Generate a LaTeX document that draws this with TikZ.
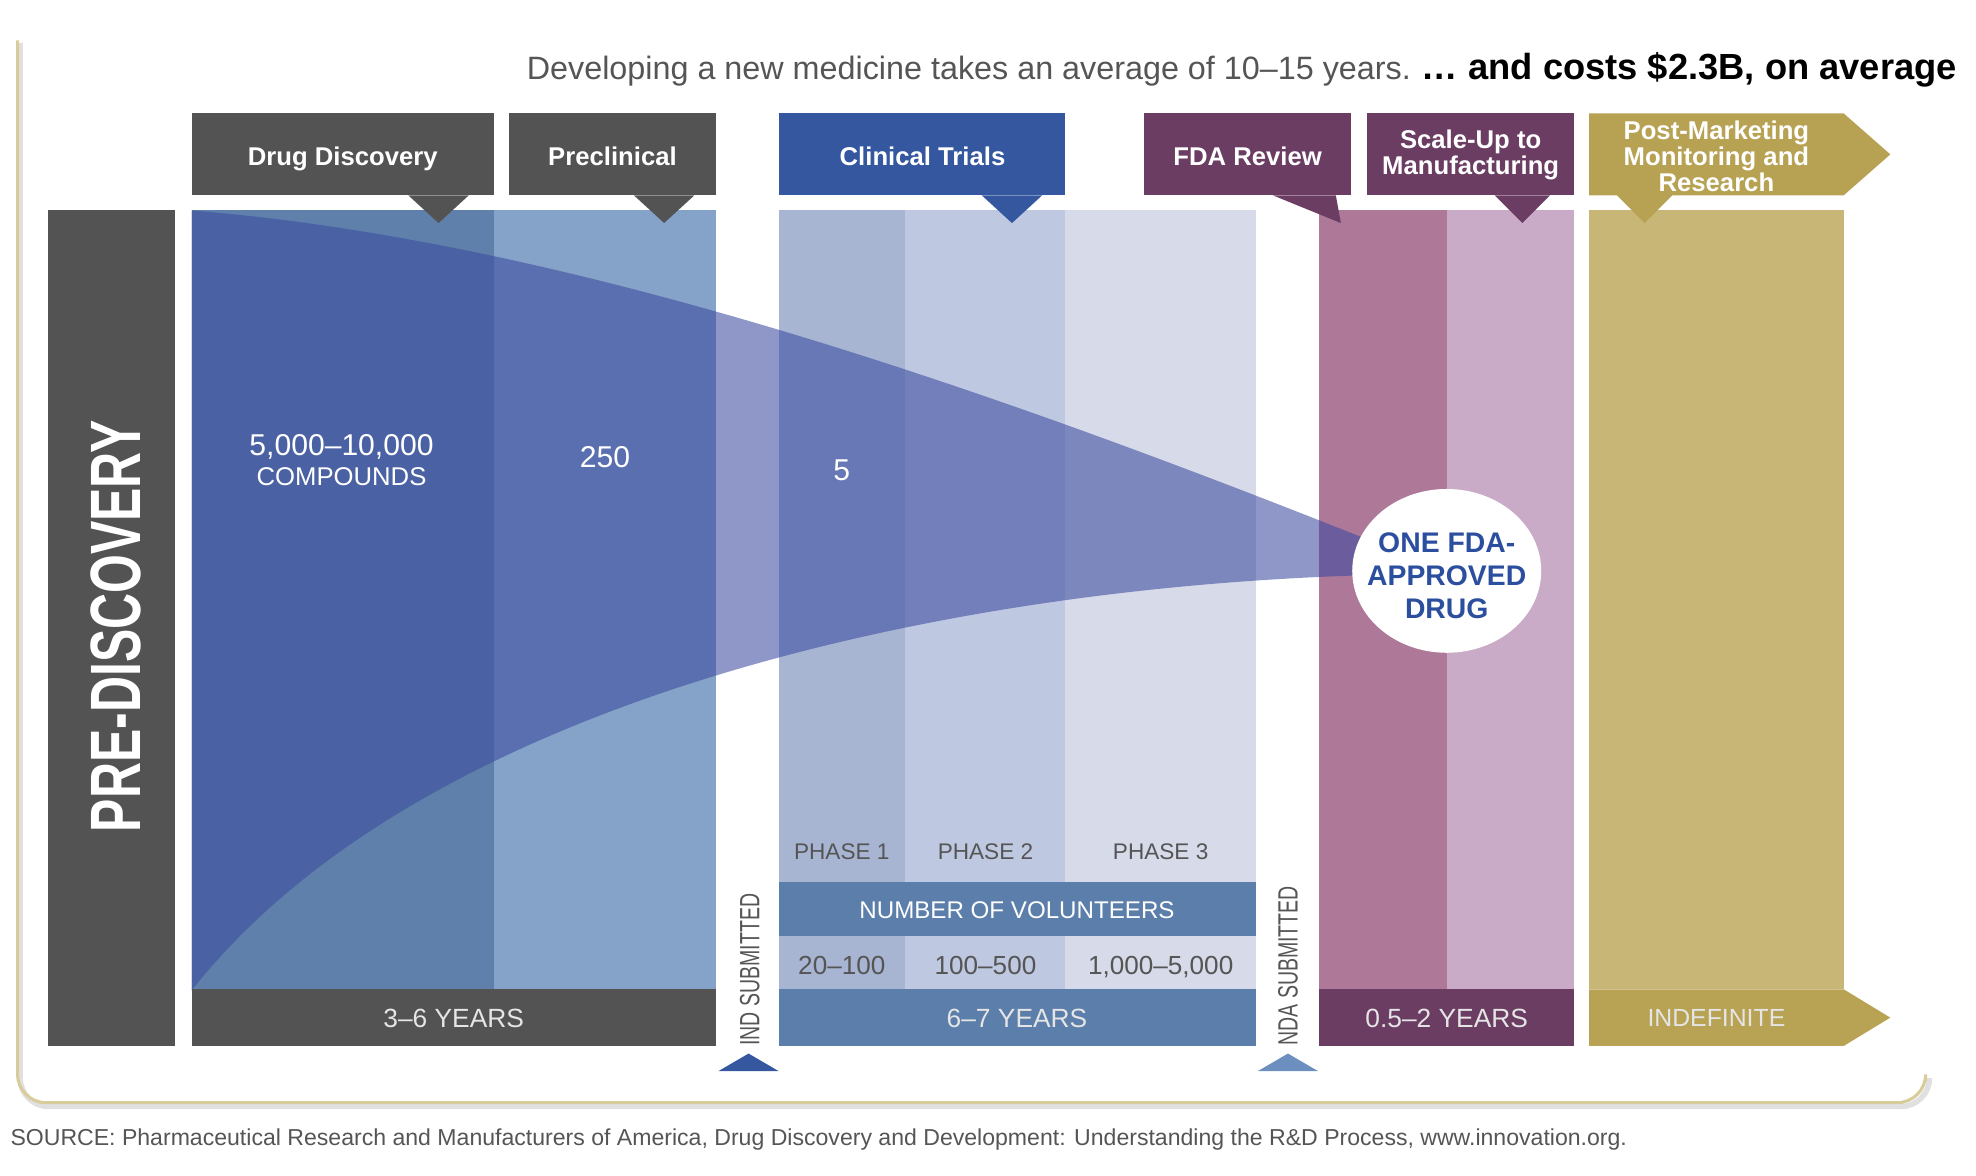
\documentclass[tikz,border=0pt]{standalone}
\usepackage{fontspec}
\setmainfont{Liberation Sans}
\newfontfamily\narrowfont[FakeStretch=0.7]{Liberation Sans}
\usepackage{xcolor}
\definecolor{headgrey}{HTML}{535353}
\definecolor{trialblue}{HTML}{3457A0}
\definecolor{reviewpurple}{HTML}{6B3D63}
\definecolor{postgold}{HTML}{B7A253}
\definecolor{discoveryblue}{HTML}{5F80AB}
\definecolor{preclinblue}{HTML}{85A3C8}
\definecolor{phaseone}{HTML}{A7B5D3}
\definecolor{phasetwo}{HTML}{BFC8E1}
\definecolor{phasethree}{HTML}{D6DAE9}
\definecolor{volblue}{HTML}{5B7EAB}
\definecolor{reviewcol}{HTML}{AE7899}
\definecolor{scalecol}{HTML}{C9AAC7}
\definecolor{postcol}{HTML}{C8B677}
\definecolor{postbar}{HTML}{B8A253}
\definecolor{ndablue}{HTML}{6C8FC0}
\definecolor{funnelblue}{HTML}{3C4BA0}
\definecolor{framegold}{HTML}{D8CC9A}
\definecolor{labelgrey}{HTML}{555555}
\definecolor{drugblue}{HTML}{2B4F9E}
\usepackage{tikz}
\usetikzlibrary{shapes.geometric}

\begin{document}
\begin{tikzpicture}[x=0.02cm, y=-0.02cm,
  head/.style={text=white, font=\bfseries\fontsize{11.6}{10.6}\selectfont, align=center, inner sep=0pt},
  count/.style={text=white, font=\fontsize{13.6}{13.6}\selectfont, align=center, inner sep=0pt},
  years/.style={text=white!90!black, font=\fontsize{11.9}{12}\selectfont, inner sep=0pt},
  phase/.style={text=labelgrey, font=\fontsize{10.2}{12}\selectfont, inner sep=0pt},
  volnum/.style={text=labelgrey, font=\fontsize{11.8}{12}\selectfont, inner sep=0pt, text depth=0pt},
  submitted/.style={rotate=90, anchor=west, text=labelgrey, font=\narrowfont\fontsize{12.6}{12.6}\selectfont, inner sep=0pt}
]
\useasboundingbox (0,0) rectangle (1568,933);

% frame
\draw[black!12, line width=2.5pt, rounded corners=0.45cm] (16,34) -- (16,878) -- (1531,878) -- (1531,860);
\draw[framegold, line width=1.4pt, rounded corners=0.45cm] (14,32) -- (14,875) -- (1528,875) -- (1528,858);

% title
\node[anchor=base east, inner sep=0pt, text=labelgrey, font=\fontsize{14.6}{15}\selectfont] (tagline) at (1120,63) {Developing a new medicine takes an average of 10–15 years.};
\node[anchor=base west, inner sep=0pt, font=\bfseries\fontsize{16.4}{17}\selectfont] (cost) at (1128,63) {… and costs \$2.3B, on average};

% pre-discovery
\fill[headgrey] (38,167) rectangle (139,830);
\node[rotate=90, inner sep=0pt, text=white, font=\narrowfont\bfseries\fontsize{32.2}{32}\selectfont] (prediscovery) at (92,497) {PRE-DISCOVERY};

% columns
\fill[discoveryblue] (152,167) rectangle (392,785);
\fill[preclinblue] (392,167) rectangle (568,785);
\fill[phaseone] (618,167) rectangle (718,785);
\fill[phasetwo] (718,167) rectangle (845,785);
\fill[phasethree] (845,167) rectangle (997,785);
\fill[reviewcol] (1047,167) rectangle (1148,785);
\fill[scalecol] (1148,167) rectangle (1249,785);
\fill[postcol] (1261,167) rectangle (1463,785);

% funnel
\fill[funnelblue, opacity=0.58] (152,167) .. controls (452,191) and (790,310) .. (1100,434)
  -- (1100,456) .. controls (740,464) and (330,560) .. (152,786) -- cycle;

% header boxes
\fill[headgrey] (152,90) rectangle (392,155);
\fill[headgrey] (324,155) -- (372,155) -- (348,177) -- cycle;
\fill[headgrey] (404,90) rectangle (568,155);
\fill[headgrey] (503,155) -- (551,155) -- (527,177) -- cycle;
\fill[trialblue] (618,90) rectangle (845,155);
\fill[trialblue] (779,155) -- (827,155) -- (803,177) -- cycle;
\fill[reviewpurple] (908,90) rectangle (1072,155);
\fill[reviewpurple] (1010,155) -- (1060,155) -- (1064,177) -- cycle;
\fill[reviewpurple] (1085,90) rectangle (1249,155);
\fill[reviewpurple] (1186,155) -- (1230,155) -- (1208,177) -- cycle;
\fill[postgold] (1261,90) -- (1463,90) -- (1500,122.5) -- (1463,155) -- (1327,155)
  -- (1305,177) -- (1283,155) -- (1261,155) -- cycle;

\node[head, text depth=0pt] (discovery) at (272,124) {Drug Discovery};
\node[head] (preclinical) at (486,124) {Preclinical};
\node[head] (trials) at (732,124) {Clinical Trials};
\node[head] (review) at (990,124) {FDA Review};
\node[head] (scaleup) at (1167,123) {Scale-Up to\\Manufacturing};
\node[head, font=\bfseries\fontsize{11.6}{10.2}\selectfont] (postmarket) at (1362,124) {Post-Marketing\\Monitoring and\\Research};

% counts
\node[count] (compounds) at (271,365) {5,000–10,000\\\fontsize{11.6}{13.6}\selectfont COMPOUNDS};
\node[count] (twofifty) at (480,363) {250};
\node[count] (five) at (668,373) {5};

% clinical table
\node[phase] (phase1) at (668,676) {PHASE 1};
\node[phase] (phase2) at (782,676) {PHASE 2};
\node[phase] (phase3) at (921,676) {PHASE 3};
\fill[volblue] (618,700) rectangle (997,743);
\node[text=white, font=\fontsize{10.9}{12}\selectfont, inner sep=0pt] (volunteers) at (807,722) {NUMBER OF VOLUNTEERS};
\node[volnum] (vol1) at (668,766) {20–100};
\node[volnum] (vol2) at (782,766) {100–500};
\node[volnum] (vol3) at (921,766) {1,000–5,000};

% duration bars
\fill[headgrey] (152,785) rectangle (568,830);
\fill[volblue] (618,785) rectangle (997,830);
\fill[reviewpurple] (1047,785) rectangle (1249,830);
\fill[postbar] (1261,785) -- (1463,785) -- (1500,807.5) -- (1463,830) -- (1261,830) -- cycle;
\node[years] (early) at (360,808) {3–6 YEARS};
\node[years] (clinical) at (807,808) {6–7 YEARS};
\node[years] (approval) at (1148,808) {0.5–2 YEARS};
\node[years, font=\fontsize{11.2}{12}\selectfont] (indefinite) at (1362,808) {INDEFINITE};

% submissions
\node[submitted] (ind) at (595,830) {IND SUBMITTED};
\fill[trialblue] (570,850) -- (618,850) -- (594,836) -- cycle;
\node[submitted] (nda) at (1022,830) {NDA SUBMITTED};
\fill[ndablue] (998,850) -- (1046,850) -- (1022,836) -- cycle;

% approved drug
\node[ellipse, fill=white, minimum width=3cm, minimum height=2.6cm, inner sep=0pt] (approved) at (1148,453) {};
\node[align=center, inner sep=0pt, text=drugblue, font=\bfseries\fontsize{12.8}{15}\selectfont] (approvedtext) at ([yshift=-0.08cm]approved.center) {ONE FDA-\\APPROVED\\DRUG};

% source
\node[anchor=base west, inner sep=0pt, text=labelgrey, font=\fontsize{10.42}{11}\selectfont] (source) at (8,909) {SOURCE: Pharmaceutical Research and Manufacturers of America, Drug Discovery and Development: Understanding the R\&D Process, www.innovation.org.};
\end{tikzpicture}
\end{document}
